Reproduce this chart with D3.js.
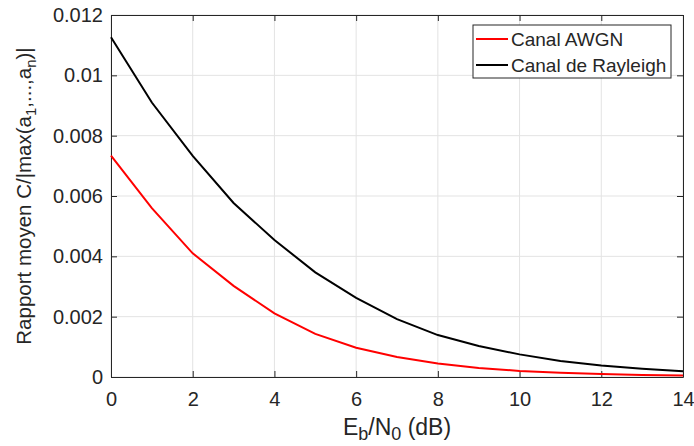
<!DOCTYPE html>
<html>
<head>
<meta charset="utf-8">
<script src="https://cdn.jsdelivr.net/npm/d3@7"></script>
<style>
  body { margin: 0; background: #fff; overflow: hidden; }
  svg { display: block; }
  svg text { font-family: "Liberation Sans", Arial, sans-serif; fill: #262626; }
</style>
</head>
<body>
<div class="chart"></div>
<script>
// Eb/N0 (dB)
const snr = [0, 1, 2, 3, 4, 5, 6, 7, 8, 9, 10, 11, 12, 13, 14];
const awgn = [0.00734, 0.0056, 0.0041, 0.00302, 0.00211, 0.00143, 0.00097, 0.00066, 0.00045, 0.00030, 0.00020, 0.00014, 0.00010, 0.00007, 0.00005];
const rayleigh = [0.01126, 0.0091, 0.00733, 0.00577, 0.00454, 0.00347, 0.00262, 0.00192, 0.00139, 0.00103, 0.00075, 0.00053, 0.00038, 0.00027, 0.00019];
const xTicks = [0, 2, 4, 6, 8, 10, 12, 14];
const yTicks = [0, 0.002, 0.004, 0.006, 0.008, 0.01, 0.012];
const seriesNames = ['Canal AWGN', 'Canal de Rayleigh'];
const seriesColors = ['#ff0000', '#000000'];

const width = 694, height = 446;
const margin = { top: 15, right: 11, bottom: 69, left: 111 };
const innerWidth = width - margin.left - margin.right,
  innerHeight = height - margin.top - margin.bottom;

const svg = d3.select('.chart').append('svg')
  .attr('width', width)
  .attr('height', height);
const g = svg.append('g')
  .attr('transform', `translate(${margin.left}, ${margin.top})`);

const x = d3.scaleLinear().domain([0, 14]).range([0, innerWidth]);
const y = d3.scaleLinear().domain([0, 0.012]).range([innerHeight, 0]);

// grid
g.append('g').selectAll('line').data(xTicks).enter().append('line')
  .attr('x1', d => x(d)).attr('x2', d => x(d))
  .attr('y1', 0).attr('y2', innerHeight)
  .attr('stroke', '#e3e3e3').attr('stroke-width', 1);
g.append('g').selectAll('line').data(yTicks).enter().append('line')
  .attr('y1', d => y(d)).attr('y2', d => y(d))
  .attr('x1', 0).attr('x2', innerWidth)
  .attr('stroke', '#e3e3e3').attr('stroke-width', 1);

// axes (ticks pointing inward, box on)
const fmtY = d => d === 0 ? '0' : String(+d.toFixed(3));
const axisStyle = sel => {
  sel.select('.domain').attr('stroke', '#262626');
  sel.selectAll('.tick line').attr('stroke', '#262626');
  sel.selectAll('.tick text').attr('font-size', 20).attr('fill', '#262626');
};
g.append('g').attr('transform', `translate(0, ${innerHeight})`)
  .call(d3.axisBottom(x).tickValues(xTicks).tickSizeInner(-6).tickSizeOuter(0).tickPadding(15))
  .call(axisStyle);
g.append('g')
  .call(d3.axisLeft(y).tickValues(yTicks).tickFormat(fmtY).tickSizeInner(-6).tickSizeOuter(0).tickPadding(8))
  .call(axisStyle);
g.append('g')
  .call(d3.axisTop(x).tickValues(xTicks).tickSizeInner(-6).tickSizeOuter(0))
  .call(axisStyle)
  .selectAll('.tick text').remove();
g.append('g').attr('transform', `translate(${innerWidth}, 0)`)
  .call(d3.axisRight(y).tickValues(yTicks).tickSizeInner(-6).tickSizeOuter(0))
  .call(axisStyle)
  .selectAll('.tick text').remove();

// curves
const line = d3.line().x((d, i) => x(snr[i])).y(d => y(d));
[awgn, rayleigh].forEach((s, k) => {
  g.append('path').datum(s)
    .attr('fill', 'none')
    .attr('stroke', seriesColors[k])
    .attr('stroke-width', 2)
    .attr('d', line);
});

// axis labels
const xl = svg.append('text')
  .attr('x', margin.left + innerWidth / 2)
  .attr('y', 435)
  .attr('text-anchor', 'middle')
  .attr('font-size', 23);
xl.append('tspan').text('E');
xl.append('tspan').attr('dy', 5).attr('font-size', 18).text('b');
xl.append('tspan').attr('dy', -5).text('/N');
xl.append('tspan').attr('dy', 5).attr('font-size', 18).text('0');
xl.append('tspan').attr('dy', -5).text(' (dB)');

const yl = svg.append('text')
  .attr('transform', `translate(31, 196) rotate(-90)`)
  .attr('text-anchor', 'middle')
  .attr('font-size', 20.5);
yl.append('tspan').text('Rapport moyen C/|max(a');
yl.append('tspan').attr('dy', 5).attr('font-size', 15).text('1');
yl.append('tspan').attr('dy', -5).text(',...,a');
yl.append('tspan').attr('dy', 5).attr('font-size', 15).text('n');
yl.append('tspan').attr('dy', -5).text(')|');

// legend
const legend = g.append('g').attr('transform', `translate(${innerWidth - 210}, 10)`);
legend.append('rect')
  .attr('width', 198).attr('height', 53)
  .attr('fill', '#fff').attr('stroke', '#262626').attr('stroke-width', 1);
const items = legend.selectAll('g.item').data(seriesNames).enter().append('g')
  .attr('transform', (d, i) => `translate(0, ${14 + i * 26})`);
items.append('line')
  .attr('x1', 3).attr('x2', 35)
  .attr('stroke', (d, i) => seriesColors[i]).attr('stroke-width', 2);
items.append('text')
  .attr('x', 38).attr('dy', '0.35em')
  .attr('font-size', 19)
  .text(d => d);
</script>
</body>
</html>
